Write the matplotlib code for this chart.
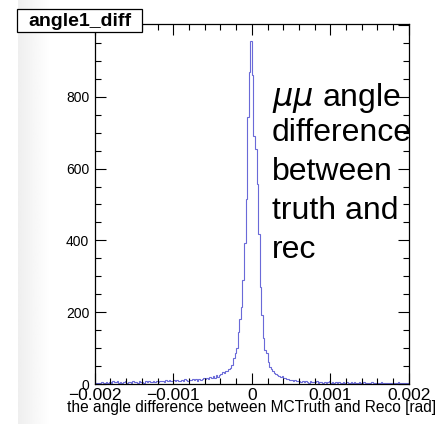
import matplotlib
matplotlib.use("Agg")
import matplotlib.pyplot as plt
from matplotlib.patches import Rectangle
from matplotlib.ticker import MultipleLocator
import numpy as np

plt.rcParams['font.family'] = ['Liberation Sans', 'DejaVu Sans']

# histogram angle1_diff: 200 bins from -0.002 to 0.002 rad
x_lo, x_hi, n_bins = -0.002, 0.002, 200

left_tail = [3, 2, 4, 3, 5, 2, 4, 6, 3, 5, 4, 7, 6, 5, 8, 4, 6, 3, 5, 7,
             4, 6, 5, 3, 7, 5, 6, 4, 8, 5, 6, 4, 7, 5, 9, 6, 5, 8, 6, 7,
             5, 9, 7, 8, 6, 10, 8, 11, 7, 9, 12, 8, 10, 9, 7, 11, 9, 13, 10, 8,
             12, 10, 14, 11, 13, 9, 15, 12, 14, 16, 13, 17, 15, 19, 16, 21, 18, 24, 20, 26,
             29, 33, 30, 37, 35, 42]
core = [45, 53, 72, 87, 100, 145, 180, 215, 290, 394, 515, 744, 870, 955,
        861, 691, 654, 556, 417, 271, 193, 129, 95, 85, 62, 48, 41, 36, 31, 27,
        25, 22, 19, 21, 16, 17, 13, 14, 11, 12, 9, 10, 8, 9]
right_tail = [7, 6, 8, 5, 7, 6, 4, 7, 5, 6, 5, 7, 4, 6, 5, 3, 6, 4, 5, 7,
              4, 5, 3, 6, 4, 5, 4, 3, 6, 4, 5, 3, 4, 6, 3, 5, 4, 3, 5, 4,
              3, 5, 4, 2, 4, 3, 5, 3, 4, 2, 4, 3, 5, 3, 2, 4, 3, 4, 2, 3,
              4, 2, 3, 5, 3, 2, 4, 3, 2, 4]
counts = np.array(left_tail + core + right_tail, dtype=float)
edges = np.linspace(x_lo, x_hi, n_bins + 1)

hist_title = "angle1_diff"
x_title = "the angle difference between MCTruth and Reco [rad]"
x_ticks = [-0.002, -0.001, 0, 0.001, 0.002]
x_ticklabels = ["\u22120.002", "\u22120.001", "0", "0.001", "0.002"]
note_lines = [r"$\mu\mu$ angle", "difference", "between", "truth and", "rec"]

W, H = 439, 424
fig = plt.figure(figsize=(W / 100, H / 100), dpi=100)

# faint grey band down the left edge of the canvas
band = fig.add_axes([18 / W, 0, 32 / W, 1], zorder=0)
grad = np.linspace(0.935, 1.0, 64)[None, :]
band.imshow(grad, cmap="gray", vmin=0, vmax=1, aspect="auto",
            extent=(0, 1, 0, 1))
band.axis("off")

ax = fig.add_axes([94.8 / W, 1 - 384 / H, 314 / W, 360 / H], zorder=1)
ax.patch.set_alpha(0)
ax.stairs(counts, edges, color="#6a6ad8", lw=0.8)
ax.set_xlim(x_lo, x_hi)
ax.set_ylim(0, counts.max() * 1.05)

ax.xaxis.set_major_locator(MultipleLocator(0.001))
ax.xaxis.set_minor_locator(MultipleLocator(0.0002))
ax.yaxis.set_major_locator(MultipleLocator(200))
ax.yaxis.set_minor_locator(MultipleLocator(50))
ax.tick_params(which="both", direction="in", top=True, right=True, width=0.8)
ax.tick_params(which="major", length=8)
ax.tick_params(which="minor", length=4)
ax.tick_params(axis="y", labelsize=10, pad=4)
ax.tick_params(axis="x", labelsize=12.5, pad=3)
ax.set_xticks(x_ticks)
ax.set_xticklabels(x_ticklabels)
for s in ax.spines.values():
    s.set_linewidth(0.9)

ax.text(0.5, -16 / 360, x_title, transform=ax.transAxes, ha="center",
        va="top", fontsize=11.2, linespacing=1.0)

# annotation block on the right of the peak
baselines = [106, 141, 180, 219, 258]
for line, yb in zip(note_lines, baselines):
    fig.text(272 / W, 1 - yb / H, line, fontsize=23, va="baseline",
             ha="left", zorder=5)

# title box
fig.patches.append(Rectangle((17 / W, 1 - 32 / H), 125 / W, 23 / H,
                             transform=fig.transFigure, fc="white",
                             ec="black", lw=0.9, zorder=10))
fig.text(79.5 / W, 1 - 21 / H, hist_title, ha="center", va="center",
         fontsize=14, fontweight="bold", zorder=11)

fig.savefig("out.png", dpi=100)
